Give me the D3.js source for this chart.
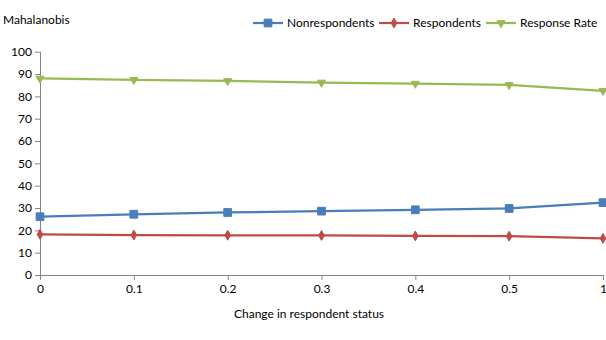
<!DOCTYPE html>
<html><head><meta charset="utf-8">
<script src="https://cdn.jsdelivr.net/npm/d3@7"></script>
<style>body{margin:0;background:#fff}svg{display:block}text{font-family:Lato,"Open Sans",sans-serif;fill:#000}</style>
</head><body>
<svg id="c" width="606" height="340"></svg>
<script>
const categories = ["0","0.1","0.2","0.3","0.4","0.5","1"];
const nonrespondents = [26.1, 27.2, 28.0, 28.6, 29.2, 29.8, 32.4];
const respondents = [18.2, 17.9, 17.8, 17.7, 17.5, 17.4, 16.4];
const responseRate = [88.0, 87.4, 86.9, 86.2, 85.7, 85.1, 82.5];
const yTicks = [0,10,20,30,40,50,60,70,80,90,100];
const seriesNames = ["Nonrespondents","Respondents","Response Rate"];
const colors = ["#4a7ebb","#be4b48","#98b954"];

const svg = d3.select("#c");
const x = d3.scalePoint().domain(categories).range([40, 603]);
const y = d3.scaleLinear().domain([0,100]).range([275, 51.7]);

const gy = svg.append("g").attr("transform","translate(40,0)")
  .call(d3.axisLeft(y).tickValues(yTicks).tickSize(5).tickPadding(3));
const gx = svg.append("g").attr("transform","translate(0,275)")
  .call(d3.axisBottom(x).tickSize(5).tickPadding(4));
[gx, gy].forEach(g => {
  g.selectAll("path,line").attr("stroke","#868686");
  g.selectAll("text").attr("font-size","12px").attr("font-family","Lato, sans-serif").attr("fill","#000");
});
gx.select(".domain").attr("d","M40,0.5H603");
gy.select(".domain").attr("d","M0.5,51.7V275");

const series = [nonrespondents, respondents, responseRate];
const line = d3.line().x((d,i)=>x(categories[i])).y(d=>y(d));
const symbols = [d3.symbolSquare, d3.symbolDiamond, d3.symbolTriangle];
const sizes = [60, 28, 28];
function marker(g, k, cx, cy) {
  const p = g.append("path").attr("d", d3.symbol(symbols[k], sizes[k])())
    .attr("fill", colors[k]).attr("stroke", colors[k]).attr("stroke-width", 1);
  p.attr("transform", `translate(${cx},${cy})` + (k===2 ? " rotate(180)" : ""));
}
series.forEach((s,k) => {
  const g = svg.append("g");
  g.append("path").datum(s).attr("d", line).attr("fill","none")
    .attr("stroke", colors[k]).attr("stroke-width", 2.25);
  s.forEach((v,i) => marker(g, k, x(categories[i]), y(v)));
});

svg.append("text").attr("x",3).attr("y",24).attr("font-size","12px").text("Mahalanobis");
svg.append("text").attr("x",309).attr("y",318).attr("text-anchor","middle").attr("font-size","12px").text("Change in respondent status");

const legX = [253, 379, 486];
seriesNames.forEach((n,k) => {
  const g = svg.append("g");
  g.append("line").attr("x1",legX[k]).attr("x2",legX[k]+30).attr("y1",23).attr("y2",23)
    .attr("stroke",colors[k]).attr("stroke-width",2.25);
  marker(g, k, legX[k]+15, 23);
  g.append("text").attr("x",legX[k]+34).attr("y",27).attr("font-size","12px").text(n);
});
</script>
</body></html>
